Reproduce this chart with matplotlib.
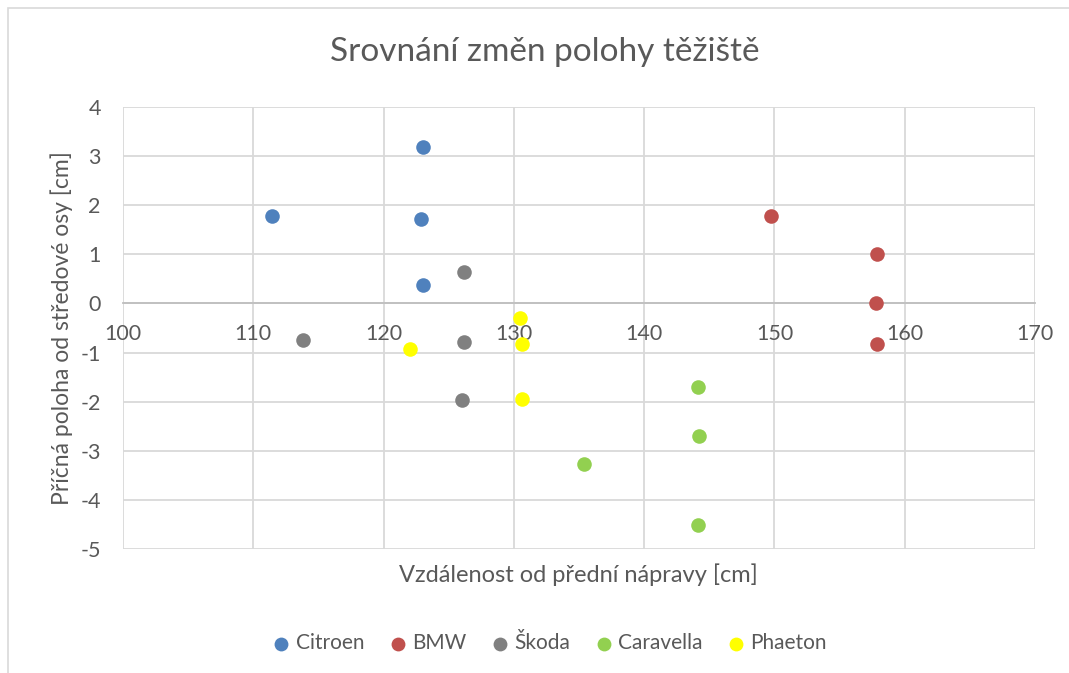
import matplotlib.pyplot as plt
from matplotlib.patches import Rectangle

plt.rcParams['font.family'] = ['Lato', 'DejaVu Sans']
plt.rcParams['axes.unicode_minus'] = False

# values
citroen_x = [111.4, 123.0, 122.9, 123.0]
citroen_y = [1.79, 3.19, 1.71, 0.37]
bmw_x = [149.7, 157.9, 157.8, 157.9]
bmw_y = [1.79, 1.0, 0.0, -0.83]
skoda_x = [113.8, 126.2, 126.2, 126.0]
skoda_y = [-0.75, 0.65, -0.79, -1.97]
caravella_x = [144.1, 144.2, 135.4, 144.1]
caravella_y = [-1.71, -2.70, -3.27, -4.51]
phaeton_x = [122.0, 130.5, 130.6, 130.6]
phaeton_y = [-0.93, -0.30, -0.83, -1.95]

series = [
    ('Citroen', citroen_x, citroen_y, '#4F81BD'),
    ('BMW', bmw_x, bmw_y, '#C0504D'),
    ('Škoda', skoda_x, skoda_y, '#808080'),
    ('Caravella', caravella_x, caravella_y, '#92D050'),
    ('Phaeton', phaeton_x, phaeton_y, '#FFFF00'),
]

xticks = [100, 110, 120, 130, 140, 150, 160, 170]
yticks = [4, 3, 2, 1, 0, -1, -2, -3, -4, -5]

text_color = '#595959'
grid_color = '#D9D9D9'

W, H = 1069, 673
fig = plt.figure(figsize=(W / 100, H / 100), dpi=100)

# chart area border
fig.patches.append(Rectangle((8 / W, -0.05), 1.2, 1 - 8 / H + 0.05,
                             transform=fig.transFigure, fill=False,
                             edgecolor=grid_color, linewidth=1.2))

ax = fig.add_axes([123 / W, 1 - 549 / H, (1035 - 123) / W, (549 - 107) / H])

for name, xs, ys, color in series:
    ax.scatter(xs, ys, s=110, color=color, label=name, zorder=3, linewidths=0)

ax.set_xlim(100, 170)
ax.set_ylim(-5, 4)
ax.set_xticks(xticks)
ax.set_yticks(yticks)
ax.grid(True, color=grid_color, linewidth=1.3, zorder=0)
ax.set_axisbelow(True)

for s in ['top', 'right', 'left']:
    ax.spines[s].set_visible(False)
ax.spines['bottom'].set_position(('data', 0))
ax.spines['bottom'].set_color('#BFBFBF')
ax.spines['bottom'].set_linewidth(1.3)
ax.spines['bottom'].set_zorder(1)

ax.tick_params(axis='x', length=0, pad=15, labelsize=15.5, labelcolor=text_color)
ax.tick_params(axis='y', length=0, pad=16, labelsize=15.5, labelcolor=text_color)

fig.text(545 / W, 1 - 52 / H, 'Srovnání změn polohy těžiště',
         ha='center', va='center', fontsize=24, color=text_color)
fig.text(578 / W, 1 - 575 / H, 'Vzdálenost od přední nápravy [cm]',
         ha='center', va='center', fontsize=17, color=text_color)
fig.text(62 / W, 1 - 328 / H, 'Příčná poloha od středové osy [cm]',
         ha='center', va='center', rotation=90, fontsize=16.5, color=text_color)

leg = fig.legend(loc='center', bbox_to_anchor=(550 / W, 1 - 643 / H), ncol=5,
                 frameon=False, fontsize=15, handlelength=0.8, handletextpad=0.3,
                 columnspacing=1.2, markerscale=0.95)
for t in leg.get_texts():
    t.set_color(text_color)

fig.savefig('out.png', dpi=100)
